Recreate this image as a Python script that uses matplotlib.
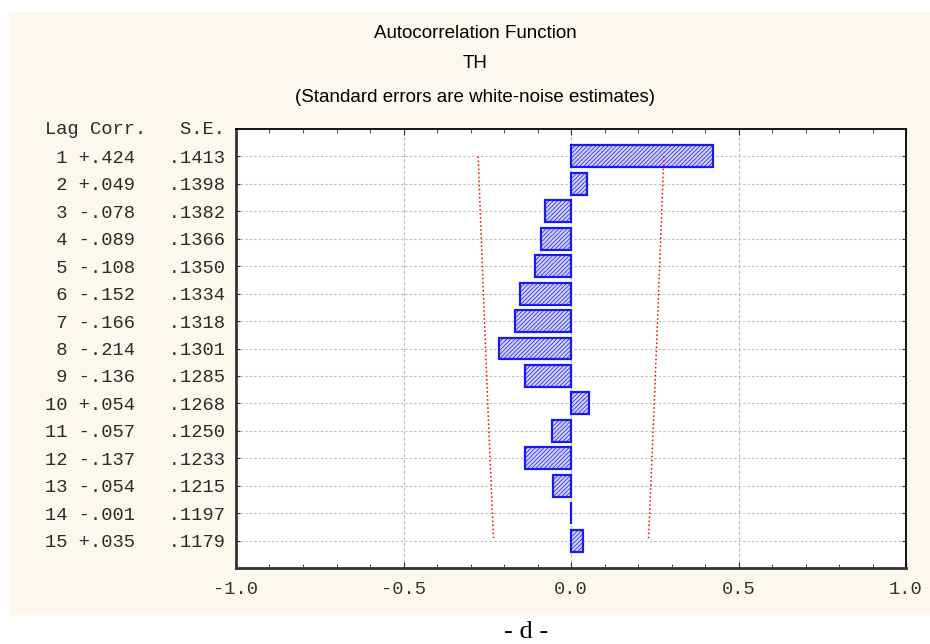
import numpy as np
import matplotlib
matplotlib.use('Agg')
from matplotlib import pyplot as plt
from matplotlib.patches import Rectangle
from matplotlib.ticker import MultipleLocator

# Autocorrelation values for series TH, lags 1..15.
lags = np.arange(1, 16)
corr = [0.424, 0.049, -0.078, -0.089, -0.108, -0.152, -0.166, -0.214,
        -0.136, 0.054, -0.057, -0.137, -0.054, -0.001, 0.035]
se = [0.1413, 0.1398, 0.1382, 0.1366, 0.1350, 0.1334, 0.1318, 0.1301,
      0.1285, 0.1268, 0.1250, 0.1233, 0.1215, 0.1197, 0.1179]
xticks = [-1.0, -0.5, 0.0, 0.5, 1.0]

plt.rcParams['hatch.linewidth'] = 0.5
mono = 'Liberation Mono'
cream = '#fdf8ed'

W, H = 930, 644
fig = plt.figure(figsize=(W / 100, H / 100), dpi=100, facecolor='white')
fig.patches.append(Rectangle((9 / W, 1 - 616 / H), 1 - 9 / W, (616 - 12) / H,
                             transform=fig.transFigure, facecolor=cream,
                             edgecolor='none', zorder=-5))

ax = fig.add_axes([236 / W, 1 - 568 / H, (906 - 236) / W, (568 - 129) / H])
ax.set_facecolor('white')

ax.barh(lags, corr, height=0.8, color='#cfd0f6', edgecolor='#1a1aee',
        hatch='////////', linewidth=1.6, zorder=3)

# white-noise confidence limits (1.96 * S.E.)
lim = 1.96 * np.asarray(se)
ax.plot(lim, lags, color='red', ls=':', lw=1.1, zorder=4)
ax.plot(-lim, lags, color='red', ls=':', lw=1.1, zorder=4)

ax.set_xlim(-1, 1)
ax.set_ylim(16, 0)
ax.set_xticks(xticks)
ax.set_xticklabels(['%.1f' % t for t in xticks], family=mono, fontsize=13.5,
                   color='#333333')
ax.xaxis.set_minor_locator(MultipleLocator(0.1))

def fmt_corr(c):
    s = '%+.3f' % c
    return s[0] + s[2:]

rows = ['%2d %s   %s' % (l, fmt_corr(c), ('%.4f' % s)[1:])
        for l, c, s in zip(lags, corr, se)]
ax.set_yticks(lags)
ax.set_yticklabels(rows, family=mono, fontsize=13.5, color='#2a2a2a')
ax.text(-0.0164, 0, 'Lag Corr.   S.E.', transform=ax.get_yaxis_transform(),
        ha='right', va='center', family=mono, fontsize=13.5, color='#2a2a2a')

ax.tick_params(axis='both', which='both', direction='in', top=True, right=True,
               color='#333333')
ax.tick_params(axis='y', length=3, pad=8)
ax.tick_params(axis='x', which='major', length=4, pad=9)
ax.tick_params(axis='x', which='minor', length=3)

ax.grid(axis='y', color='#bbbbbb', ls=(0, (2, 2)), lw=0.8, zorder=1)
ax.grid(axis='x', which='major', color='#bbbbbb', ls=(0, (3, 2)), lw=0.8,
        zorder=1)
for side in ['left', 'bottom']:
    ax.spines[side].set_linewidth(2)
    ax.spines[side].set_color('#333333')
for side in ['top', 'right']:
    ax.spines[side].set_linewidth(1.3)

fig.text(475 / W, 1 - 34 / H, 'Autocorrelation Function', ha='center',
         va='center', fontsize=13.5, family='Liberation Sans')
fig.text(475 / W, 1 - 63 / H, 'TH', ha='center', va='center', fontsize=13.5,
         family='Liberation Sans')
fig.text(475 / W, 1 - 97 / H, '(Standard errors are white-noise estimates)',
         ha='center', va='center', fontsize=13.5, family='Liberation Sans')
fig.text(526 / W, 1 - 638 / H, '- d -', ha='center', va='baseline',
         fontsize=19, family='Liberation Serif')

fig.savefig('out.png', dpi=100, facecolor='white')
